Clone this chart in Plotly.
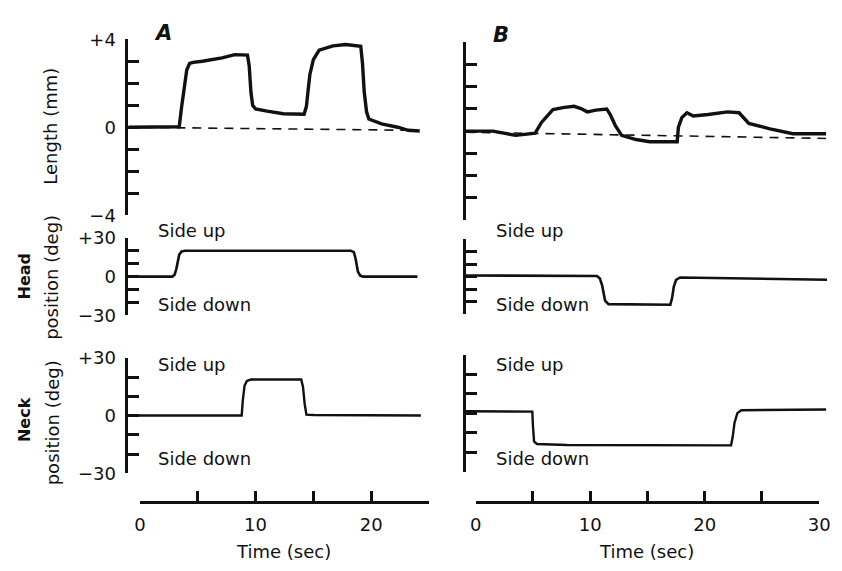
import plotly.graph_objects as go

W, H = 842, 571

# ---------------- data ----------------
lenA_t = [-1.0, 1.0, 3.0, 3.4, 3.6, 3.8, 4.05, 4.3, 4.6, 5.4, 7.1, 8.2, 9.3, 9.45, 9.6, 9.75, 10.0,
          11.0, 12.4, 14.2, 14.4, 14.55, 14.7, 15.0, 15.5, 16.7, 17.8, 19.1, 19.25, 19.4, 19.6,
          19.8, 20.9, 22.3, 23.2, 24.2]
lenA_v = [0.0, 0.0, 0.0, 0.02, 0.9, 1.8, 2.6, 2.9, 2.95, 3.0, 3.15, 3.3, 3.28, 2.8, 1.6, 1.0, 0.83,
          0.73, 0.61, 0.59, 0.95, 1.7, 2.4, 3.07, 3.5, 3.7, 3.76, 3.68, 2.9, 1.6, 0.7,
          0.37, 0.15, 0.0, -0.14, -0.17]
baseA_t = [-1.0, 23.5]
baseA_v = [0.0, -0.14]

lenB_t = [-0.88, 1.5, 3.5, 5.2, 5.75, 6.75, 7.75, 8.6, 9.2, 9.75, 10.5, 11.45, 11.75, 12.2, 12.75,
          14.0, 15.2, 17.6, 17.7, 18.0, 18.45, 19.0, 20.3, 22.0, 23.0, 23.85, 25.7, 27.7, 30.6]
lenB_v = [0.0, 0.0, -0.19, -0.09, 0.39, 0.97, 1.07, 1.12, 1.02, 0.87, 0.95, 1.0, 0.75, 0.25, -0.19,
          -0.38, -0.48, -0.48, 0.17, 0.61, 0.83, 0.68, 0.75, 0.87, 0.83, 0.35, 0.10, -0.12, -0.12]
baseB_t = [-0.88, 30.6]
baseB_v = [-0.05, -0.33]

headA_t = [-1.0, 2.8, 3.0, 3.15, 3.4, 3.6, 3.9, 18.25, 18.5, 18.65, 18.85, 19.05, 19.3, 24.0]
headA_v = [0, 0, 1.5, 6, 17, 19.5, 20, 20, 19, 14, 4, 0.8, 0, 0]

headB_t = [-0.88, 10.6, 10.85, 11.05, 11.3, 11.6, 17.0, 17.15, 17.3, 17.5, 17.85, 30.7]
headB_v = [1.0, 0.6, -1.5, -7, -19, -21.8, -22.3, -17, -8, -2.5, -0.6, -2.4]

neckA_t = [-1.0, 8.8, 8.9, 9.05, 9.25, 9.6, 13.95, 14.1, 14.25, 14.4, 15.0, 24.3]
neckA_v = [0, 0, 8, 15.5, 18, 18.7, 18.7, 15, 6, 0.5, 0.3, 0]

neckB_t = [-0.88, 4.95, 5.0, 5.1, 5.35, 8.0, 22.3, 22.45, 22.6, 22.85, 23.2, 30.6]
neckB_v = [1.0, 0.8, -6, -14.5, -15.8, -16.3, -16.5, -12, -5, 0, 1.5, 1.9]

len_ticks = [-4, -3, -2, -1, 0, 1, 2, 3, 4]
len_text = ["\u22124", "", "", "", "0", "", "", "", "+4"]
deg_ticks = [-30, -20, -10, 0, 10, 20, 30]
deg_text = ["\u221230", "", "", "0", "", "", "+30"]
timeA_ticks = [0, 5, 10, 15, 20, 25]
timeA_text = ["0", "", "10", "", "20", ""]
timeB_ticks = [0, 5, 10, 15, 20, 25, 30]
timeB_text = ["0", "", "10", "", "20", "", "30"]

# ---------------- helpers ----------------
FONT = "DejaVu Sans"
INK = "#111111"


def px(x):
    return min(max(x / W, 0.0), 1.0)


def py(y):
    return min(max(1 - y / H, 0.0), 1.0)


def xdom(a, b):
    return [px(a), px(b)]


def ydom(top, bottom):
    return [py(bottom), py(top)]


fig = go.Figure()

panels = [
    (1, lenA_t, lenA_v, 3.4),
    (2, lenB_t, lenB_v, 3.4),
    (3, headA_t, headA_v, 2.6),
    (4, headB_t, headB_v, 2.6),
    (5, neckA_t, neckA_v, 2.4),
    (6, neckB_t, neckB_v, 2.4),
]


def ax(n):
    return ("x" if n == 1 else f"x{n}"), ("y" if n == 1 else f"y{n}")


for n, t, v, w in panels:
    xa, ya = ax(n)
    fig.add_trace(go.Scatter(x=t, y=v, mode="lines", xaxis=xa, yaxis=ya,
                             line=dict(color=INK, width=w),
                             hoverinfo="skip", showlegend=False))

fig.add_trace(go.Scatter(x=baseA_t, y=baseA_v, mode="lines", xaxis="x", yaxis="y",
                         line=dict(color=INK, width=1.6, dash="9px,7px"),
                         hoverinfo="skip", showlegend=False))
fig.add_trace(go.Scatter(x=baseB_t, y=baseB_v, mode="lines", xaxis="x2", yaxis="y2",
                         line=dict(color=INK, width=1.6, dash="9px,7px"),
                         hoverinfo="skip", showlegend=False))

fig.add_trace(go.Scatter(x=[0, 25], y=[0, 0], mode="lines", xaxis="x7", yaxis="y7",
                         opacity=0, hoverinfo="skip", showlegend=False))
fig.add_trace(go.Scatter(x=[0, 30], y=[0, 0], mode="lines", xaxis="x8", yaxis="y8",
                         opacity=0, hoverinfo="skip", showlegend=False))

# x mapping: column A  t -> 136.7 + 11.8 t ; column B  t -> 479.3 + 11.69 t  (page px)
xA = xdom(125, 431.7)
rA = [-0.99, 25.0]
xB = xdom(469, 838)
rB = [(469 - 479.3) / 11.69, (838 - 479.3) / 11.69]

ycommon = dict(showline=True, linewidth=3, linecolor=INK, ticks="inside", ticklen=11,
               tickwidth=2.5, tickcolor=INK, showgrid=False, zeroline=False,
               ticklabelstandoff=6,
               tickfont=dict(family=FONT, size=18, color=INK), fixedrange=True)
xhidden = dict(visible=False, showgrid=False, zeroline=False, fixedrange=True)
tcommon = dict(showline=True, linewidth=3, linecolor=INK, ticks="inside", ticklen=10,
               tickwidth=2.5, tickcolor=INK, showgrid=False, zeroline=False,
               fixedrange=True, ticklabelstandoff=5,
               tickfont=dict(family=FONT, size=18, color=INK))

layout = dict(
    width=W, height=H, margin=dict(l=0, r=0, t=0, b=0),
    paper_bgcolor="white", plot_bgcolor="rgba(0,0,0,0)",
    showlegend=False, font=dict(family=FONT, color=INK),
    xaxis=dict(domain=xA, range=rA, anchor="y", **xhidden),
    xaxis2=dict(domain=xB, range=rB, anchor="y2", **xhidden),
    xaxis3=dict(domain=xA, range=rA, anchor="y3", **xhidden),
    xaxis4=dict(domain=xB, range=rB, anchor="y4", **xhidden),
    xaxis5=dict(domain=xA, range=rA, anchor="y5", **xhidden),
    xaxis6=dict(domain=xB, range=rB, anchor="y6", **xhidden),
    yaxis=dict(domain=ydom(29.3, 212), range=[-4, 4], anchor="x",
               tickvals=len_ticks, ticktext=len_text, **ycommon),
    yaxis2=dict(domain=ydom(32.7, 216.7), range=[-4, 4], anchor="x2",
                tickvals=len_ticks, showticklabels=False, **ycommon),
    yaxis3=dict(domain=ydom(235.5, 316), range=[-30, 30], anchor="x3",
                tickvals=deg_ticks, ticktext=deg_text, **ycommon),
    yaxis4=dict(domain=ydom(236.7, 315), range=[-30, 30], anchor="x4",
                tickvals=deg_ticks, showticklabels=False, **ycommon),
    yaxis5=dict(domain=ydom(360, 480), range=[-30, 30], anchor="x5",
                tickvals=deg_ticks, ticktext=deg_text, **ycommon),
    yaxis6=dict(domain=ydom(356.7, 478.3), range=[-30, 30], anchor="x6",
                tickvals=deg_ticks, showticklabels=False, **ycommon),
    xaxis7=dict(domain=xdom(136.7, 431.7), range=[0, 25], anchor="y7",
                tickvals=timeA_ticks, ticktext=timeA_text, **tcommon),
    yaxis7=dict(domain=ydom(495, 509), range=[0, 1], anchor="x7", visible=False, fixedrange=True),
    xaxis8=dict(domain=xdom(479.3, 830), range=[0, 30], anchor="y8",
                tickvals=timeB_ticks, ticktext=timeB_text, **tcommon),
    yaxis8=dict(domain=ydom(495, 509), range=[0, 1], anchor="x8", visible=False, fixedrange=True),
)
fig.update_layout(**layout)


def label(text, x, y, size=18, angle=0, bold=False, italic=False, xanchor="center"):
    t = text
    if bold:
        t = f"<b>{t}</b>"
    if italic:
        t = f"<i>{t}</i>"
    fig.add_annotation(text=t, x=px(x), y=py(y), xref="paper", yref="paper",
                       showarrow=False, textangle=angle, xanchor=xanchor, yanchor="middle",
                       font=dict(family=FONT, size=size, color=INK))


label("A", 160, 23, size=21, bold=True, italic=True)
label("B", 505, 25, size=21, bold=True, italic=True)

label("Length (mm)", 45, 120, angle=-90)
label("Head", 19, 275, size=16, angle=-90, bold=True)
label("position (deg)", 47, 277, angle=-90)
label("Neck", 19, 424, size=16, angle=-90, bold=True)
label("position (deg)", 47, 428, angle=-90)

for x0 in (153, 498):
    label("Side up", x0, 228, xanchor="left")
    label("Side down", x0, 305, xanchor="left")
    label("Side up", x0, 367, xanchor="left")
    label("Side down", x0, 465, xanchor="left")

label("Time (sec)", 283, 561)
label("Time (sec)", 654, 561)

fig.write_html("out.html")
